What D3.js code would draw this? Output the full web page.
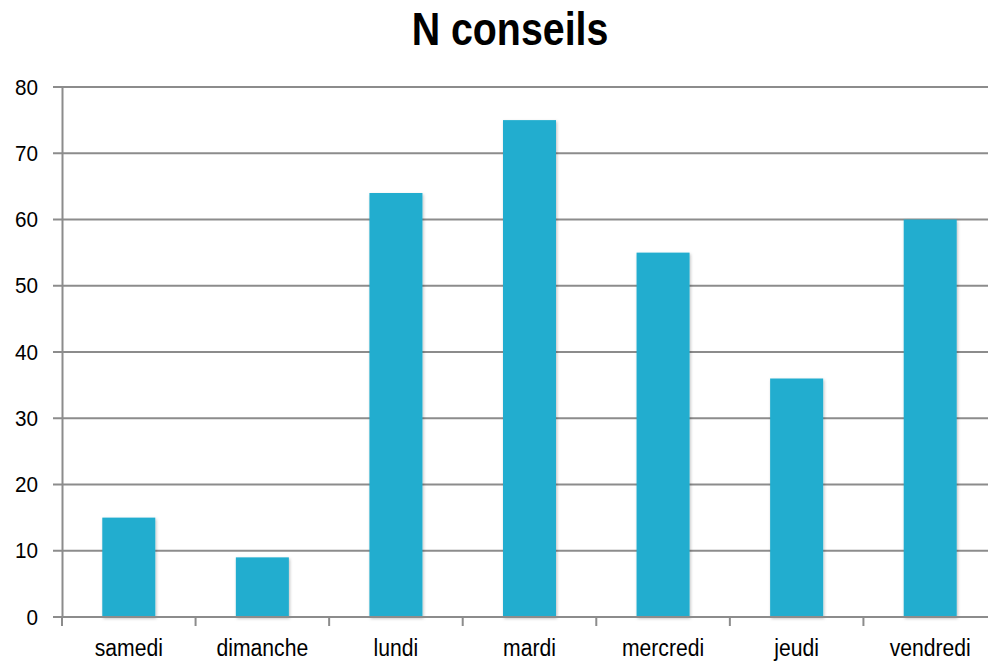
<!DOCTYPE html>
<html><head><meta charset="utf-8">
<script src="https://cdn.jsdelivr.net/npm/d3@7"></script>
<style>body{margin:0;background:#fff}</style>
</head><body>
<svg id="c" width="988" height="663"></svg>
<script>
const categories = ["samedi","dimanche","lundi","mardi","mercredi","jeudi","vendredi"];
const values = [15, 9, 64, 75, 55, 36, 60];
const yTicks = [0,10,20,30,40,50,60,70,80];
const title = "N conseils";

const svg = d3.select("#c");
const font = "'Liberation Sans',Arial,sans-serif";
const xb = d3.scaleBand().domain(categories).range([62, 997]);
const y = d3.scaleLinear().domain([0,80]).range([617, 87]);

function condense(sel, k){
  sel.each(function(){
    const L = this.getComputedTextLength();
    d3.select(this).attr("textLength", L*k).attr("lengthAdjust","spacingAndGlyphs");
  });
}

const defs = svg.append("defs");
const f = defs.append("filter").attr("id","sh").attr("x","-20%").attr("y","-5%").attr("width","140%").attr("height","115%");
f.append("feDropShadow").attr("dx",1).attr("dy",1.5).attr("stdDeviation",1.5).attr("flood-color","#000").attr("flood-opacity",0.25);

svg.append("text").attr("x",510).attr("y",45).attr("text-anchor","middle")
  .style("font-family",font).style("font-weight","bold").style("font-size","46px").text(title)
  .call(condense, 0.855);

// gridlines
svg.append("g").selectAll("line").data(yTicks).join("line")
  .attr("x1",53).attr("x2",988).attr("y1",d=>y(d)).attr("y2",d=>y(d))
  .attr("stroke","#8c8c8c").attr("stroke-width",2);

// y axis
const ya = svg.append("g").attr("transform","translate(62,0)")
  .call(d3.axisLeft(y).tickValues(yTicks).tickSize(0).tickPadding(24));
ya.select(".domain").attr("stroke","#8c8c8c").attr("stroke-width",2);
ya.selectAll("text").style("font-family",font).style("font-size","22px").attr("fill","#000")
  .call(condense, 0.94);

// bars
svg.append("g").selectAll("rect").data(values).join("rect")
  .attr("x",(d,i)=>xb(categories[i]) + xb.bandwidth()/2 - 26.5)
  .attr("width",53)
  .attr("y",d=>y(d)).attr("height",d=>y(0)-y(d))
  .attr("fill","#20adcf").attr("filter","url(#sh)");

// x axis
const xa = svg.append("g").attr("transform","translate(0,617)")
  .call(d3.axisBottom(xb).tickSize(0).tickPadding(23).tickSizeOuter(0));
xa.select(".domain").attr("stroke","#8c8c8c").attr("stroke-width",2).attr("d","M62,0H988");
xa.selectAll("text").style("font-family",font).style("font-size","23px").attr("fill","#000")
  .call(condense, 0.92);
svg.append("g").selectAll("line").data(d3.range(categories.length)).join("line")
  .attr("x1",i=>62+i*xb.step()).attr("x2",i=>62+i*xb.step())
  .attr("y1",617).attr("y2",626).attr("stroke","#8c8c8c").attr("stroke-width",2);
</script>
</body></html>
